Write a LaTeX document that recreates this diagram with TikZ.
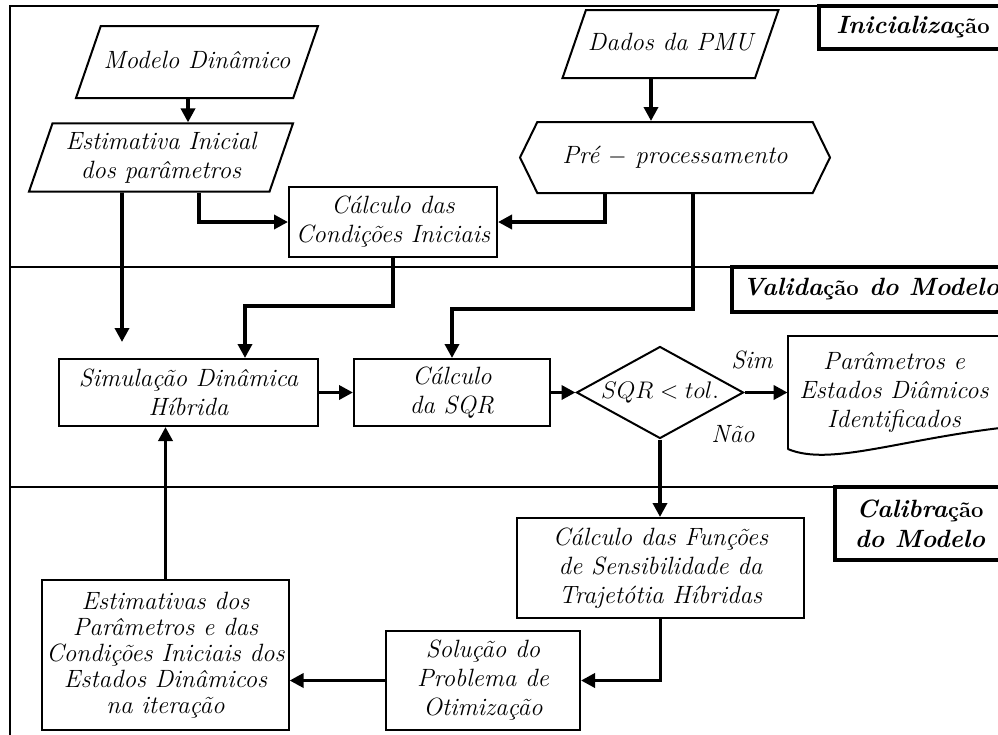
\documentclass[tikz,border=0pt]{standalone}
\usetikzlibrary{positioning,calc,arrows.meta,shapes.geometric,shapes.symbols}

\begin{document}
\begin{tikzpicture}[x=0.5pt,y=-0.5pt,
txt/.style={font=\fontsize{12.5}{14.5}\selectfont\itshape,align=center},
box/.style={txt,draw,rectangle,line width=1pt,inner sep=2pt},
io/.style={txt,draw,trapezium,trapezium left angle=71,trapezium right angle=109,trapezium stretches body=true,line width=1pt,inner xsep=1pt},
prep/.style={txt,draw,signal,signal to=west and east,signal pointer angle=128,line width=1pt},
decision/.style={txt,draw,diamond,line width=1pt,inner sep=0pt},
sect/.style={draw,fill=white,line width=2pt,inner sep=2pt,align=center,font=\fontsize{12.5}{15}\selectfont\bfseries\itshape},
arr/.style={line width=1.8pt,-{Triangle[length=7pt,width=7pt]}},
frame/.style={line width=1pt}]
\clip (0,0) rectangle (998,735);
\draw[frame] (10,6) rectangle (1020,760);
\draw[frame] (10,267) -- (1020,267);
\draw[frame] (10,487) -- (1020,487);

\node (ini) [sect,minimum width=94pt,minimum height=21.5pt] at (913,27.5)
    {Inicializa\textup{\fontsize{11}{13}\selectfont ção}};
\node (val) [sect,minimum width=139pt,minimum height=22.5pt] at (871,289.5)
    {Valida\textup{\fontsize{11}{13}\selectfont ção} do Modelo};
\node (cal) [sect,minimum width=85pt,minimum height=36.5pt] at (920,523.5)
    {Calibra\textup{\fontsize{11}{13}\selectfont ção}\\do Modelo};

\node (mod) [io,minimum width=121pt,text height=9pt,text depth=3pt,inner ysep=12pt] at (197,62) {Modelo Dinâmico};
\node (est) [io,minimum width=132pt,inner ysep=4.25pt] at (161,157.5) {Estimativa Inicial\\dos parâmetros};
\node (pmu) [io,minimum width=102.5pt,text height=9pt,text depth=3pt,inner ysep=11pt] at (670.5,44) {Dados da PMU};
\node (pre) [prep,minimum width=155pt,minimum height=35.5pt] at (675,157.5) {Pré $-$ processamento};
\node (cond) [box,minimum width=104pt,minimum height=35pt] at (393,222) {Cálculo das\\Condições Iniciais};
\node (sim) [box,minimum width=129.5pt,minimum height=33.5pt] at (188.5,392.5) {Simulação Dinâmica\\Híbrida};
\node (sqr) [box,minimum width=98pt,minimum height=33.5pt] at (452,392.5) {Cálculo\\da SQR};
\node (dec) [decision,minimum width=83.5pt,minimum height=46pt] at (660,392.5) {\makebox[0pt]{$SQR<tol.$}};
\node (res) [txt,minimum width=106pt,minimum height=56pt,inner sep=0pt] at (894,392.5)
    {Parâmetros e\\Estados Diâmicos\\Identificados};
\node (yes) [txt] at (752,360) {Sim};
\node (no) [txt] at (733,434) {Não};
\node (sens) [box,minimum width=143.5pt,minimum height=50pt] at (660.5,568)
    {Cálculo das Funções\\de Sensibilidade da\\Trajetótia Híbridas};
\node (otim) [box,minimum width=97pt,minimum height=49.5pt] at (483,680.5)
    {Solução do\\Problema de\\Otimização};
\node (iter) [box,minimum width=121.5pt,minimum height=75pt,font=\fontsize{12.5}{13}\selectfont\itshape] at (165.5,655)
    {Estimativas dos\\Parâmetros e das\\Condições Iniciais dos\\Estados Dinâmicos\\na iteração};

\draw[line width=1pt] (res.south west) -- (res.north west) -- ([xshift=20pt]res.north east);
\draw[line width=1pt] (res.south west) .. controls +(42,18) and +(-110,12) .. ($(res.south west)+(222,-22)$);

\draw[arr] ([xshift=-4.5pt]mod.south) -- ([xshift=13.5pt]est.north);
\draw[arr] ([xshift=-19.5pt]est.south) -- ([xshift=-33.25pt,yshift=8pt]sim.north);
\draw[arr] ([xshift=19pt]est.south) |- (cond.west);
\draw[arr] ([xshift=-9.75pt]pmu.south) -- ([xshift=-12pt]pre.north);
\draw[arr] ([xshift=-35pt]pre.south) |- (cond.east);
\draw[arr] (cond.south) -- ++(0,48) -| ([xshift=28.25pt]sim.north);
\draw[arr] ([xshift=9pt]pre.south) -- ++(0,115) -| (sqr.north);
\draw[arr] (sim.east) -- (sqr.west);
\draw[arr] (sqr.east) -- (dec.west);
\draw[arr] (dec.east) -- (res.west);
\draw[arr] (dec.south) -- (dec.south |- sens.north);
\draw[arr] (sens.south) |- (otim.east);
\draw[arr] (otim.west) -- (otim.west -| iter.east);
\draw[arr] (iter.north) -- (iter.north |- sim.south);
\end{tikzpicture}
\end{document}
